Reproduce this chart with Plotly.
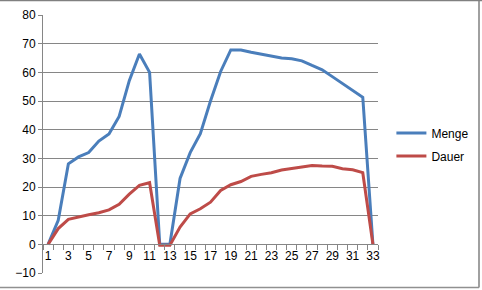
import plotly.graph_objects as go

categories = list(range(1, 34))
menge = [0, 8.4, 28.1, 30.5, 32, 36, 38.5, 44.6, 57.1, 66.4, 60, 0, 0, 23, 32, 38.6,
         50, 60.3, 67.8, 67.8, 67, 66.3, 65.6, 65, 64.7, 64, 62.4, 60.9, 58.5, 56, 53.7, 51.3, 0]
dauer = [0, 5.5, 8.7, 9.6, 10.3, 11, 12, 14, 17.5, 20.6, 21.5, -0.3, -0.3, 6, 10.6, 12.4,
         14.7, 18.8, 20.8, 21.9, 23.7, 24.4, 25, 25.9, 26.4, 27.1, 27.5, 27.3, 27.2, 26.4, 26, 25, 0]
tick_labels = [str(c) for c in categories if c % 2 == 1]
tick_positions = [c for c in categories if c % 2 == 1]

fig = go.Figure()
fig.add_trace(go.Scatter(x=categories, y=menge, mode="lines", name="Menge",
                         line=dict(color="#4A7EBB", width=3), legendgroup="a"))
fig.add_trace(go.Scatter(x=categories, y=dauer, mode="lines", name="Dauer",
                         line=dict(color="#BE4B48", width=3), legendgroup="b"))

font = dict(family="Liberation Sans, Arial, sans-serif", size=12, color="#000000")
W, H = 335, 258
fig.update_layout(
    width=482, height=290,
    margin=dict(l=43, r=104, t=15, b=17, autoexpand=False),
    paper_bgcolor="white", plot_bgcolor="white",
    font=font,
    showlegend=True,
    legend=dict(x=1.04, y=0.498, xanchor="left", yanchor="middle",
                tracegroupgap=4, itemwidth=30, font=font, bgcolor="rgba(0,0,0,0)"),
    xaxis=dict(range=[0.5, 33.5], tickmode="array", tickvals=tick_positions,
               ticktext=tick_labels, ticks="", showgrid=False, zeroline=False,
               showline=True, linecolor="#868686", linewidth=1,
               anchor="free", position=10/90, automargin=False,
               minor=dict(tickmode="linear", tick0=0.5, dtick=1, ticks="outside",
                          ticklen=5, tickcolor="#868686", showgrid=False),
               tickfont=font, fixedrange=True),
    yaxis=dict(range=[-10, 80], dtick=10, tick0=0, showgrid=True, gridcolor="#868686",
               gridwidth=1, zeroline=False, showline=True, linecolor="#868686",
               linewidth=1, ticks="outside", ticklen=4, tickcolor="#868686",
               tickfont=font, domain=[0, 1], automargin=False),
    shapes=[
        dict(type="line", xref="paper", yref="paper", x0=-43/W, x1=439/W,
             y0=1 + 14.5/H, y1=1 + 14.5/H, line=dict(color="#808080", width=1.5)),
        dict(type="line", xref="paper", yref="paper", x0=436/W, x1=436/W,
             y0=1 + 15/H, y1=-14.5/H, line=dict(color="#808080", width=1.5)),
        dict(type="line", xref="paper", yref="paper", x0=-43/W, x1=436/W,
             y0=-14.5/H, y1=-14.5/H, line=dict(color="#909090", width=1.5)),
    ],
)

fig.write_html("out.html")
